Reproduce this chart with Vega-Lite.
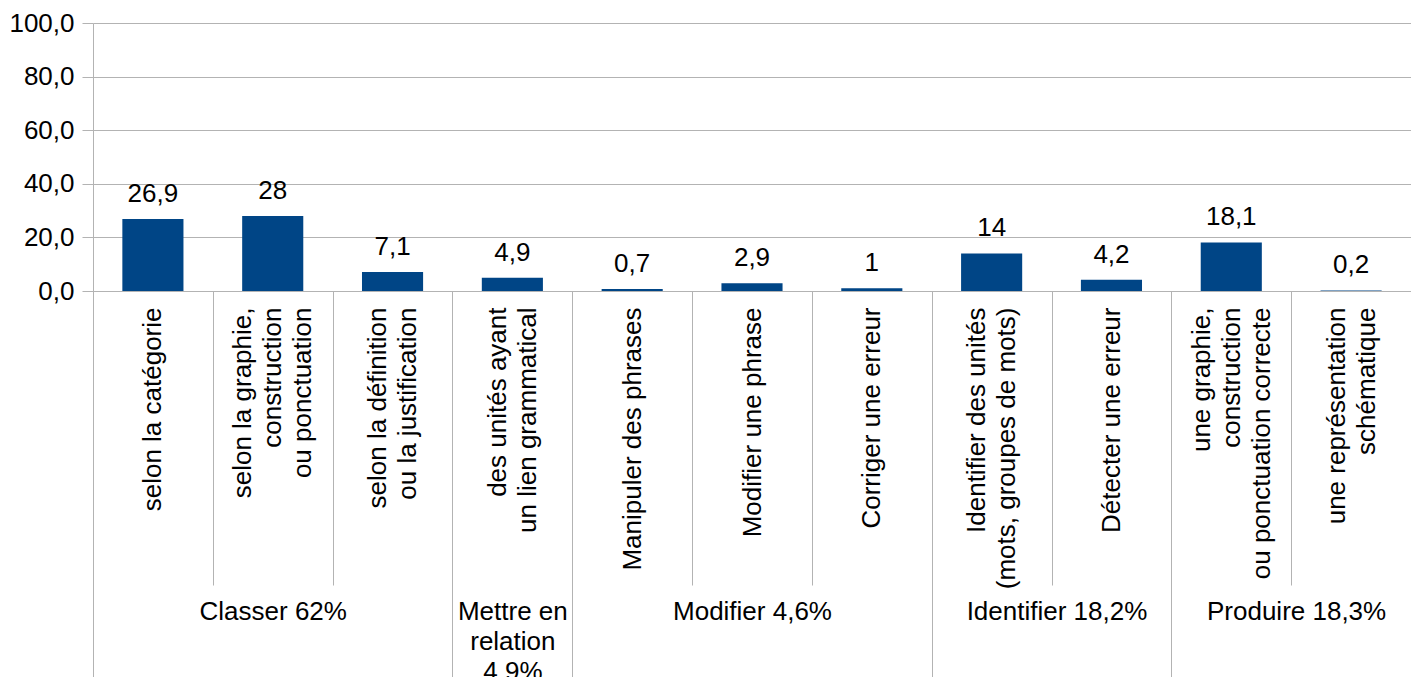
{
  "$schema": "https://vega.github.io/schema/vega-lite/v6.json",
  "autosize": "none",
  "padding": {"left": 93, "top": 23, "right": 0, "bottom": 386},
  "width": 1318,
  "height": 268,
  "background": "white",
  "config": {
    "view": {"stroke": null},
    "locale": {"number": {"decimal": ",", "thousands": " ", "grouping": [3], "currency": ["", " €"]}},
    "axis": {
      "labelFont": "Liberation Sans",
      "labelFontSize": 26,
      "labelColor": "#000000",
      "labelLimit": 0,
      "gridColor": "#b3b3b3",
      "domainColor": "#b3b3b3",
      "tickColor": "#b3b3b3",
      "title": null
    },
    "text": {"font": "Liberation Sans"}
  },
  "data": {
    "values": [
      {"category": "selon la catégorie", "group": "Classer", "value": 26.9},
      {"category": "selon la graphie,\nconstruction\nou ponctuation", "group": "Classer", "value": 28},
      {"category": "selon la définition\nou la justification", "group": "Classer", "value": 7.1},
      {"category": "des unités ayant\nun lien grammatical", "group": "Mettre en relation", "value": 4.9},
      {"category": "Manipuler des phrases", "group": "Modifier", "value": 0.7},
      {"category": "Modifier une phrase", "group": "Modifier", "value": 2.9},
      {"category": "Corriger une erreur", "group": "Modifier", "value": 1},
      {"category": "Identifier des unités\n(mots, groupes de mots)", "group": "Identifier", "value": 14},
      {"category": "Détecter une erreur", "group": "Identifier", "value": 4.2},
      {"category": "une graphie,\nconstruction\nou ponctuation correcte", "group": "Produire", "value": 18.1},
      {"category": "une représentation\nschématique", "group": "Produire", "value": 0.2}
    ]
  },
  "encoding": {
    "y": {
      "field": "value",
      "type": "quantitative",
      "scale": {"domain": [0, 100], "nice": false},
      "axis": {
        "values": [0, 20, 40, 60, 80, 100],
        "format": ".1f",
        "grid": true,
        "tickSize": 11,
        "labelPadding": 8,
        "domain": true,
        "title": null
      }
    }
  },
  "layer": [
    {
      "mark": {"type": "bar", "color": "#004586", "width": {"band": 0.51}},
      "encoding": {
        "x": {
          "field": "category",
          "type": "nominal",
          "sort": null,
          "scale": {"paddingInner": 0, "paddingOuter": 0},
          "axis": {
            "orient": "bottom",
            "title": null,
            "labelAngle": -90,
            "labelAlign": "right",
            "labelBaseline": "middle",
            "labelExpr": "isString(datum.value) ? split(datum.value, '\\n') : ''",
            "labelLineHeight": 30,
            "labelPadding": -278,
            "labelOffset": {"expr": "isString(datum.value) ? -15 * (length(split(datum.value, '\\n')) - 1) : 0"},
            "tickBand": "extent",
            "ticks": true,
            "tickSize": 294,
            "domain": true,
            "grid": false
          }
        }
      }
    },
    {
      "mark": {"type": "text", "baseline": "bottom", "dy": -12, "fontSize": 26, "color": "#000000"},
      "encoding": {
        "x": {
          "field": "category",
          "type": "nominal",
          "sort": null,
          "axis": {
            "orient": "bottom",
            "title": null,
            "labelAngle": 0,
            "domain": false,
            "ticks": true,
            "tickBand": "extent",
            "tickSize": 386,
            "tickColor": {
              "condition": {
                "test": "!isString(datum.value) || indexof(datum.value, 'selon la déf') == 0 || indexof(datum.value, 'des unit') == 0 || indexof(datum.value, 'Corriger') == 0 || indexof(datum.value, 'Détecter') == 0 || indexof(datum.value, 'une repr') == 0",
                "value": "#b3b3b3"
              },
              "value": "transparent"
            },
            "grid": false,
            "labelAlign": "center",
            "labelOffset": {
              "condition": {"test": "isString(datum.value) && (indexof(datum.value, 'Détecter') == 0 || indexof(datum.value, 'une repr') == 0)", "value": -55},
              "value": 0
            },
            "labelBaseline": "top",
            "labelPadding": -79,
            "labelLineHeight": 30,
            "labelExpr": "!isString(datum.value) ? '' : indexof(datum.value, 'selon la graphie') == 0 ? 'Classer 62%' : indexof(datum.value, 'des unit') == 0 ? ['Mettre en', 'relation', '4,9%'] : indexof(datum.value, 'Modifier une') == 0 ? 'Modifier 4,6%' : indexof(datum.value, 'Détecter') == 0 ? 'Identifier 18,2%' : indexof(datum.value, 'une repr') == 0 ? 'Produire 18,3%' : ''"
          }
        },
        "text": {"field": "value", "type": "quantitative", "format": ".1~f"}
      }
    }
  ],
  "resolve": {"axis": {"x": "independent"}}
}
